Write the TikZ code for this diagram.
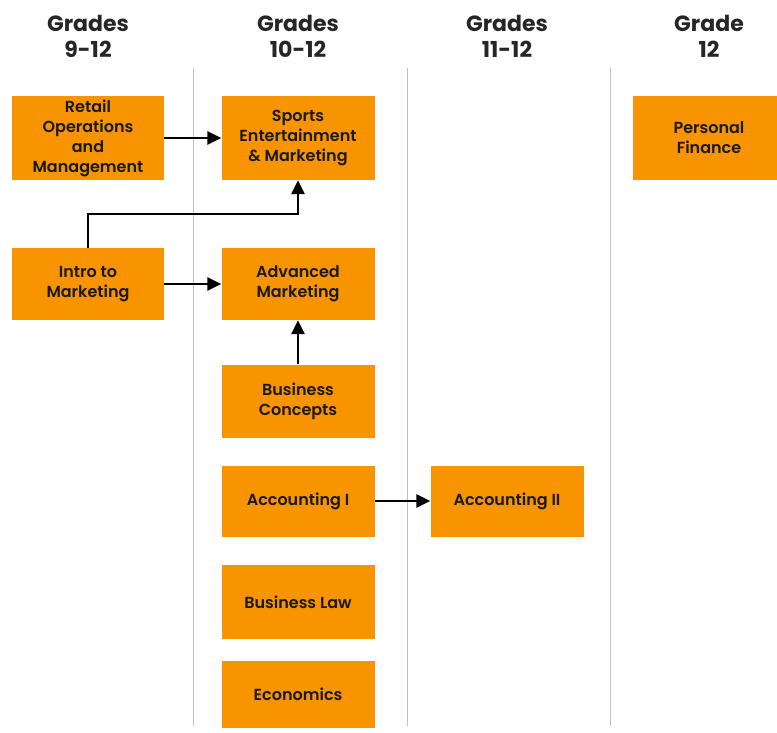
\documentclass[tikz,border=0pt]{standalone}
\usepackage{fontspec}
\setmainfont{Poppins}[BoldFont={* SemiBold}]
\newfontfamily\headfont{Poppins}[UprightFont={* Bold}]
\usepackage{tikz}
\usetikzlibrary{arrows.meta}
\definecolor{course}{RGB}{247,148,0}

\begin{document}
\begin{tikzpicture}[x=1pt,y=-1pt,
    course/.style={fill=course, minimum width=153pt, minimum height=72pt, align=center,
      inner sep=2pt, font=\fontsize{16}{20}\selectfont\bfseries, text=black!90},
    tall/.style={minimum height=84pt},
    grade/.style={align=center, font=\fontsize{22}{26}\selectfont\headfont, text=black!85},
    divider/.style={black!25, line width=0.8pt},
    prereq/.style={-{Triangle[length=14pt,width=13pt]}, line width=2.8pt}]
      \useasboundingbox (0,0) rectangle (777,732);
      \node[name=g1, grade] at (88,36) {Grades\\9-12};
      \node[name=g2, grade] at (298,36) {Grades\\10-12};
      \node[name=g3, grade] at (507,36) {Grades\\11-12};
      \node[name=g4, grade] at (709,36) {Grade\\12};
      \draw[divider] (193,68) -- (193,726);
      \draw[divider] (407,68) -- (407,726);
      \draw[divider] (610,68) -- (610,726);
      \node[name=retail, course, tall, minimum width=152pt] at (88,138) {Retail\\Operations\\and\\Management};
      \node[name=sports, course, tall] at (298,138) {Sports\\Entertainment\\\& Marketing};
      \node[name=finance, course, tall] at (709,138) {Personal\\Finance};
      \node[name=intro, course, minimum width=152pt] at (88,284) {Intro to\\Marketing};
      \node[name=advmkt, course] at (298,284) {Advanced\\Marketing};
      \node[name=concepts, course, minimum height=73pt] at (298,401) {Business\\Concepts};
      \node[name=acc1, course, minimum height=71pt] at (298,501) {Accounting I};
      \node[name=acc2, course, minimum height=71pt] at (507,501) {Accounting II};
      \node[name=law, course, minimum height=74pt] at (298,602) {Business Law};
      \node[name=econ, course, minimum height=67pt] at (298,694) {Economics};
      \draw[prereq] (retail.east) -- (sports.west);
      \draw[prereq] (intro.north) |- (298,214) -- (sports.south);
      \draw[prereq] (intro.east) -- (advmkt.west);
      \draw[prereq] (concepts.north) -- (advmkt.south);
      \draw[prereq] (acc1.east) -- (acc2.west);
   \end{tikzpicture}
\end{document}
